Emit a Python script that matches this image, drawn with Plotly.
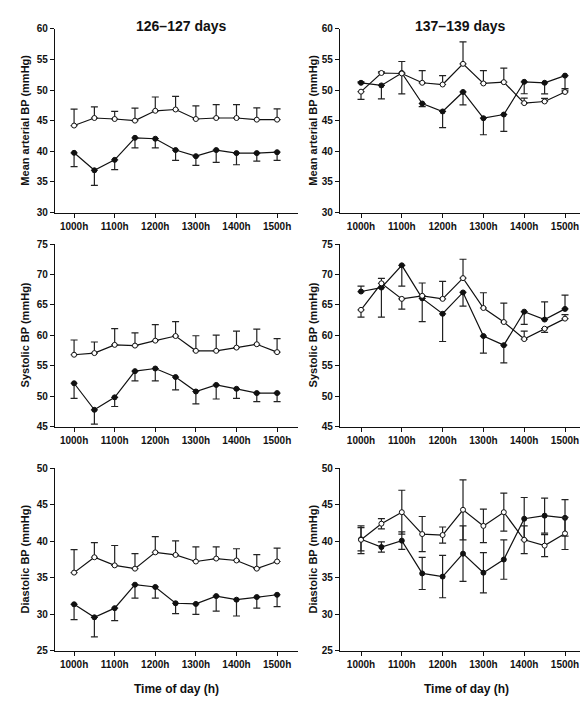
import plotly.graph_objects as go

W, H = 588, 703

times = ["1000h", "1030h", "1100h", "1130h", "1200h", "1230h",
         "1300h", "1330h", "1400h", "1430h", "1500h"]
hour_ticks = ["1000h", "1100h", "1200h", "1300h", "1400h", "1500h"]

col_titles = ["126\u2013127 days", "137\u2013139 days"]
row_titles = ["Mean arterial BP (mmHg)", "Systolic BP (mmHg)", "Diastolic BP (mmHg)"]
x_title = "Time of day (h)"

# ---- 126-127 days ----
map_a_open = [44.2, 45.43, 45.27, 45.0, 46.61, 46.82, 45.27, 45.43, 45.43, 45.16, 45.16]
map_a_open_up = [2.68, 1.82, 1.23, 2.04, 2.25, 2.15, 2.14, 2.2, 2.2, 1.93, 1.77]
map_a_fill = [39.75, 36.9, 38.6, 42.2, 42.05, 40.2, 39.2, 40.2, 39.7, 39.7, 39.85]
map_a_fill_dn = [2.25, 2.45, 1.6, 1.65, 1.5, 1.7, 1.5, 2.0, 1.9, 1.3, 1.35]

sbp_a_open = [56.83, 57.1, 58.45, 58.33, 59.14, 59.9, 57.47, 57.47, 58.0, 58.55, 57.26]
sbp_a_open_up = [2.42, 1.82, 2.68, 2.1, 2.63, 2.36, 2.48, 2.58, 2.7, 2.47, 2.2]
sbp_a_fill = [52.15, 47.79, 49.84, 54.14, 54.57, 53.17, 50.8, 51.88, 51.24, 50.54, 50.54]
sbp_a_fill_dn = [2.47, 2.36, 1.5, 1.61, 2.04, 2.09, 2.04, 2.31, 1.56, 1.4, 1.4]

dbp_a_open = [35.71, 37.81, 36.70, 36.25, 38.48, 38.13, 37.23, 37.63, 37.37, 36.25, 37.23]
dbp_a_open_up = [3.13, 2.01, 2.72, 2.05, 2.15, 1.91, 2.01, 1.61, 1.6, 1.92, 1.83]
dbp_a_fill = [31.38, 29.60, 30.85, 34.06, 33.75, 31.52, 31.43, 32.50, 32.01, 32.37, 32.68]
dbp_a_fill_dn = [2.09, 2.68, 1.7, 1.83, 1.52, 1.43, 1.43, 2.05, 2.23, 1.52, 1.61]

# ---- 137-139 days ----
map_b_open = [49.73, 52.78, 52.7, 51.18, 50.9, 54.27, 51.07, 51.28, 47.86, 48.13, 49.68]
map_b_open_up = [0, 0.2, 1.95, 2.0, 1.45, 3.6, 2.1, 2.3, 0.8, 0.5, 0.3]
map_b_open_dn = [1.25, 0, 0, 0, 0, 0, 0, 0, 0, 0, 0]
map_b_fill = [51.18, 50.75, 52.78, 47.8, 46.5, 49.68, 45.4, 46.0, 51.34, 51.18, 52.35]
map_b_fill_up = [0.15, 0, 0, 0, 0, 0, 0, 0, 0, 0, 0]
map_b_fill_dn = [0, 2.2, 3.4, 0.5, 2.65, 2.1, 2.7, 2.75, 1.95, 1.8, 2.1]

sbp_b_open = [64.2, 68.55, 66.0, 66.5, 66.0, 69.4, 64.5, 62.2, 59.4, 61.1, 62.75]
sbp_b_open_up = [0, 0.8, 0, 2.1, 2.87, 3.1, 2.5, 3.1, 1.3, 0, 0.65]
sbp_b_open_dn = [1.2, 0, 1.7, 0, 0, 0, 0, 0, 0, 0.6, 0]
sbp_b_fill = [67.2, 67.85, 71.5, 66.08, 63.55, 67.05, 59.9, 58.4, 63.9, 62.6, 64.35]
sbp_b_fill_up = [0.9, 0, 0, 0, 0, 0, 0, 0, 0, 2.9, 2.25]
sbp_b_fill_dn = [0, 4.85, 3.4, 3.8, 4.55, 2.25, 2.8, 2.9, 2.1, 0, 0]

dbp_b_open = [40.2, 42.4, 43.97, 40.98, 40.85, 44.3, 42.1, 43.97, 40.2, 39.4, 41.07]
dbp_b_open_err = [1.9, 0.7, 3.0, 2.4, 1.1, 4.1, 2.3, 2.6, 1.9, 1.5, 2.2]
dbp_b_fill = [40.27, 39.2, 40.08, 35.6, 35.17, 38.3, 35.7, 37.5, 43.08, 43.5, 43.2]
dbp_b_fill_err = [1.6, 0.7, 1.2, 2.2, 2.9, 3.8, 2.75, 2.7, 2.9, 2.4, 2.5]

y_ranges = [[30, 60], [45, 75], [25, 50]]

FONT = "Liberation Sans, Arial, sans-serif"
INK = "#111111"

fig = go.Figure()


def add_series(ax, y, plus, minus, filled):
    fig.add_trace(go.Scatter(
        x=times, y=y, mode="lines+markers",
        xaxis="x" + ax, yaxis="y" + ax,
        line=dict(color=INK, width=1.2),
        marker=dict(size=5, symbol="circle",
                    color=INK if filled else "white",
                    line=dict(color=INK, width=1)),
        error_y=dict(type="data", symmetric=False, array=plus, arrayminus=minus,
                     color="#222222", thickness=1.2, width=3.5),
        showlegend=False, hoverinfo="skip"))


zeros = [0] * len(times)

# panels: (axis id, open, open+, open-, filled, filled+, filled-)
panels = [
    ("", map_a_open, map_a_open_up, zeros, map_a_fill, zeros, map_a_fill_dn),
    ("2", map_b_open, map_b_open_up, map_b_open_dn, map_b_fill, map_b_fill_up, map_b_fill_dn),
    ("3", sbp_a_open, sbp_a_open_up, zeros, sbp_a_fill, zeros, sbp_a_fill_dn),
    ("4", sbp_b_open, sbp_b_open_up, sbp_b_open_dn, sbp_b_fill, sbp_b_fill_up, sbp_b_fill_dn),
    ("5", dbp_a_open, dbp_a_open_up, zeros, dbp_a_fill, zeros, dbp_a_fill_dn),
    ("6", dbp_b_open, dbp_b_open_err, dbp_b_open_err, dbp_b_fill, dbp_b_fill_err, dbp_b_fill_err),
]
for ax, yo, po, mo, yf, pf, mf in panels:
    add_series(ax, yf, pf, mf, True)
    add_series(ax, yo, po, mo, False)

# layout geometry (pixels)
col_px = [(47, 290), (332, 577)]
row_px = [(15, 202), (234, 420), (462, 648)]
x_rng = [[-0.94, 11.03], [-1.03, 10.98]]


def fx(px):
    return px / W


def fy(py):
    return 1 - py / H


layout = dict(width=W, height=H, margin=dict(l=0, r=0, t=0, b=0),
              paper_bgcolor="white", plot_bgcolor="white",
              font=dict(family=FONT, color=INK))

tickfont = dict(family=FONT, size=10, color=INK, weight="bold")
idx = 0
for r in range(3):
    for c in range(2):
        idx += 1
        s = "" if idx == 1 else str(idx)
        layout["xaxis" + s] = dict(
            domain=[fx(col_px[c][0]), fx(col_px[c][1])], anchor="y" + s,
            type="category", categoryorder="array", categoryarray=times,
            range=x_rng[c], tickmode="array", tickvals=hour_ticks,
            showline=True, linecolor=INK, linewidth=1.2, mirror=False,
            ticks="outside", ticklen=4, tickwidth=1, tickcolor=INK,
            showgrid=False, zeroline=False, tickfont=tickfont)
        layout["yaxis" + s] = dict(
            domain=[fy(row_px[r][1]), fy(row_px[r][0])], anchor="x" + s,
            range=y_ranges[r], dtick=5, tick0=0,
            showline=True, linecolor=INK, linewidth=1.2,
            ticks="outside", ticklen=4, tickwidth=1, tickcolor=INK,
            showgrid=False, zeroline=False, tickfont=tickfont)

ann = []
for c, (cx, t) in enumerate(zip([173, 452], col_titles)):
    ann.append(dict(text="<b>" + t + "</b>", x=fx(cx), y=fy(12.5), xref="paper", yref="paper",
                    xanchor="center", yanchor="middle", showarrow=False,
                    font=dict(family=FONT, size=14, color=INK)))
for r in range(3):
    cy = (row_px[r][0] + row_px[r][1]) / 2
    for cx in [17, 305]:
        ann.append(dict(text="<b>" + row_titles[r] + "</b>", x=fx(cx), y=fy(cy),
                        xref="paper", yref="paper", xanchor="center", yanchor="middle",
                        textangle=-90, showarrow=False,
                        font=dict(family=FONT, size=11, color=INK)))
for cx in [168, 458]:
    ann.append(dict(text="<b>" + x_title + "</b>", x=fx(cx), y=fy(687), xref="paper", yref="paper",
                    xanchor="center", yanchor="middle", showarrow=False,
                    font=dict(family=FONT, size=12, color=INK)))
layout["annotations"] = ann

fig.update_layout(**layout)
fig.write_html("out.html")
